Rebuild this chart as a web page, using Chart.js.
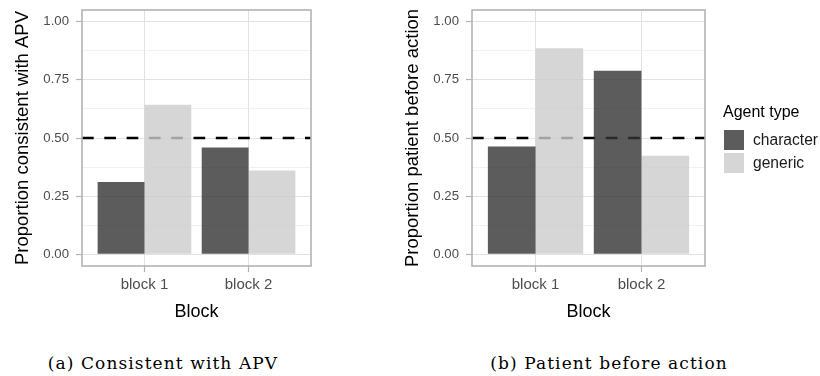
<!DOCTYPE html>
<html lang="en">
<head>
<meta charset="UTF-8">
<title>Agent type by block</title>
<script src="https://cdn.jsdelivr.net/npm/chart.js"></script>
<style>
  body {
    margin: 0;
    background: #fff;
    width: 820px;
    height: 376px;
    position: relative;
    overflow: hidden;
  }
  .panel {
    position: absolute;
    top: 0;
  }
  .caption {
    position: absolute;
    top: 353px;
    font-family: "DejaVu Serif", serif;
    font-size: 17px;
    letter-spacing: 1.1px;
    color: #000;
    transform: translateX(-50%);
    white-space: nowrap;
  }
</style>
</head>
<body>
<div class="panel" style="left:0"><canvas id="chartA" width="325" height="330"></canvas></div>
<div class="panel" style="left:390px"><canvas id="chartB" width="430" height="330"></canvas></div>
<div class="caption" style="left:163px">(a) Consistent with APV</div>
<div class="caption" style="left:609px">(b) Patient before action</div>

<script>
const blocks = ['block 1', 'block 2'];
const agentTypes = ['character', 'generic'];

// proportion of trials per block, one array per agent type
const apvCharacter = [0.311, 0.459];
const apvGeneric = [0.643, 0.360];
const patientCharacter = [0.463, 0.789];
const patientGeneric = [0.886, 0.424];

const yTicks = [0, 0.25, 0.5, 0.75, 1];
const chanceLevel = 0.5;

const fills = ['rgba(51,51,51,0.8)', 'rgba(204,204,204,0.8)'];
const borderGrey = '#b3b3b3';
const fontFamily = '"Liberation Sans", Arial, sans-serif';

Chart.defaults.font.family = fontFamily;

// minor grid lines half way between the labelled ticks
const yGrid = [];
yTicks.forEach((v, i) => {
    yGrid.push(v);
    if (i < yTicks.length - 1) yGrid.push((v + yTicks[i + 1]) / 2);
});
const isMajor = v => yTicks.some(t => Math.abs(t - v) < 1e-9);

// dashed reference line, drawn under the bars
const chanceLine = {
    id: 'chanceLine',
    beforeDatasetsDraw(chart) {
        const { ctx, chartArea } = chart;
        const y = chart.scales.y.getPixelForValue(chanceLevel);
        ctx.save();
        ctx.strokeStyle = '#000';
        ctx.lineWidth = 2.6;
        ctx.setLineDash([11.7, 10.6]);
        ctx.beginPath();
        ctx.moveTo(chartArea.left, y);
        ctx.lineTo(chartArea.right, y);
        ctx.stroke();
        ctx.restore();
    }
};

// grey frame round the panel
const panelBorder = {
    id: 'panelBorder',
    afterDatasetsDraw(chart) {
        const { ctx, chartArea } = chart;
        ctx.save();
        ctx.strokeStyle = borderGrey;
        ctx.lineWidth = 1.6;
        ctx.strokeRect(chartArea.left, chartArea.top, chartArea.right - chartArea.left, chartArea.bottom - chartArea.top);
        ctx.restore();
    }
};

// legend to the right of the second panel
const agentLegend = {
    id: 'agentLegend',
    afterDraw(chart) {
        const { ctx, chartArea } = chart;
        const x0 = chartArea.right + 17;
        const midY = (chartArea.top + chartArea.bottom) / 2;
        ctx.save();
        ctx.fillStyle = '#000';
        ctx.font = '16px ' + fontFamily;
        ctx.textBaseline = 'alphabetic';
        ctx.fillText('Agent type', x0 + 1, midY - 21);
        ctx.font = '15.6px ' + fontFamily;
        ctx.textBaseline = 'middle';
        chart.data.datasets.forEach((ds, i) => {
            const top = midY - 8 + i * 23;
            ctx.fillStyle = ds.backgroundColor;
            ctx.fillRect(x0 + 2, top, 20, 20);
            ctx.fillStyle = '#1a1a1a';
            ctx.fillText(ds.label, x0 + 31, top + 10.5);
        });
        ctx.restore();
    }
};

function makeChart(canvasId, seriesA, seriesB, yTitle, rightPad, withLegend) {
    const series = [seriesA, seriesB];
    return new Chart(document.getElementById(canvasId), {
        type: 'bar',
        data: {
            datasets: agentTypes.map((name, k) => ({
                label: name,
                data: blocks.map((b, i) => ({ x: i + 1, y: series[k][i] })),
                backgroundColor: fills[k],
                borderWidth: 0,
                categoryPercentage: 0.9,
                barPercentage: 1.0
            }))
        },
        options: {
            responsive: false,
            animation: false,
            events: [],
            layout: { padding: { left: 0, top: 10, right: rightPad, bottom: 0 } },
            plugins: {
                legend: { display: false },
                tooltip: { enabled: false }
            },
            scales: {
                x: {
                    type: 'linear',
                    min: 0.4,
                    max: 2.6,
                    offset: false,
                    afterBuildTicks: axis => { axis.ticks = blocks.map((b, i) => ({ value: i + 1 })); },
                    afterFit: axis => { axis.height = 64; axis.paddingLeft = 0; axis.paddingRight = 0; },
                    border: { display: false },
                    grid: {
                        offset: false,
                        color: '#e2e2e2',
                        lineWidth: 1,
                        tickLength: 6,
                        tickColor: borderGrey,
                        tickWidth: 1.2
                    },
                    ticks: {
                        autoSkip: false,
                        maxRotation: 0,
                        padding: 4,
                        color: '#4d4d4d',
                        font: { size: 15 },
                        callback: v => blocks[v - 1]
                    },
                    title: {
                        display: true,
                        text: 'Block',
                        color: '#000',
                        font: { size: 18 },
                        padding: { top: 0, bottom: 7 }
                    }
                },
                y: {
                    min: -0.05,
                    max: 1.05,
                    afterBuildTicks: axis => { axis.ticks = yGrid.map(v => ({ value: v })); },
                    afterFit: axis => { axis.width = 82; axis.paddingTop = 0; axis.paddingBottom = 0; },
                    border: { display: false },
                    grid: {
                        color: c => isMajor(c.tick.value) ? '#e2e2e2' : '#eeeeee',
                        lineWidth: c => isMajor(c.tick.value) ? 1 : 0.8,
                        tickLength: 6,
                        tickColor: c => isMajor(c.tick.value) ? borderGrey : 'rgba(0,0,0,0)',
                        tickWidth: 1.2
                    },
                    ticks: {
                        autoSkip: false,
                        padding: 7,
                        color: '#4d4d4d',
                        font: { size: 13.2 },
                        callback: v => isMajor(v) ? v.toFixed(2) : ''
                    },
                    title: {
                        display: true,
                        text: yTitle,
                        color: '#000',
                        font: { size: 18.5 },
                        padding: { top: 12, bottom: 0 }
                    }
                }
            }
        },
        plugins: withLegend ? [chanceLine, panelBorder, agentLegend] : [chanceLine, panelBorder]
    });
}

makeChart('chartA', apvCharacter, apvGeneric, 'Proportion consistent with APV', 14, false);
makeChart('chartB', patientCharacter, patientGeneric, 'Proportion patient before action', 115, true);
</script>
</body>
</html>
